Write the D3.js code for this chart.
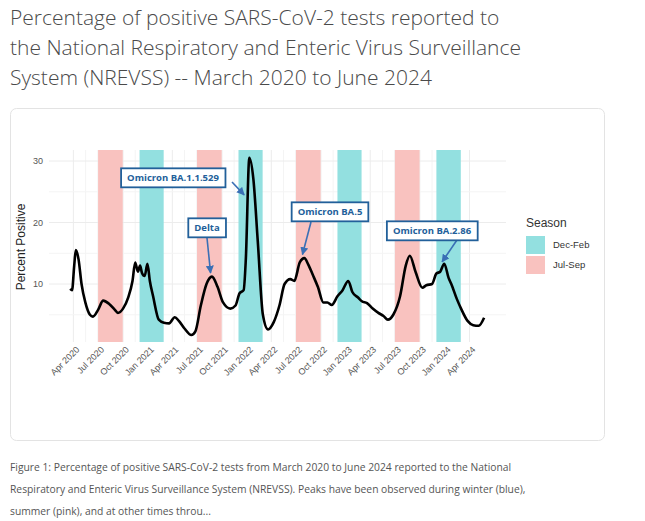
<!DOCTYPE html>
<html>
<head>
<meta charset="utf-8">
<script src="https://cdn.jsdelivr.net/npm/d3@7"></script>
<style>
  body { margin: 0; background: #fff; font-family: "Open Sans", sans-serif; }
</style>
</head>
<body>
<div id="output"></div>
<script>
// weekly-ish readings
const dates = ["2020-03-20","2020-03-27","2020-04-04","2020-04-10","2020-04-20","2020-05-01","2020-05-15","2020-06-01","2020-06-12","2020-07-01","2020-07-20","2020-08-10","2020-09-01","2020-09-12","2020-10-01","2020-10-20","2020-11-05","2020-11-15","2020-11-25","2020-12-03","2020-12-10","2020-12-20","2020-12-30","2021-01-08","2021-01-20","2021-02-10","2021-03-01","2021-03-20","2021-04-10","2021-04-25","2021-05-15","2021-06-10","2021-06-25","2021-07-15","2021-08-05","2021-08-25","2021-09-15","2021-10-05","2021-11-01","2021-11-20","2021-12-05","2021-12-20","2021-12-28","2022-01-10","2022-01-25","2022-02-10","2022-03-01","2022-03-20","2022-04-10","2022-05-01","2022-05-20","2022-06-10","2022-06-25","2022-07-15","2022-08-01","2022-08-15","2022-09-01","2022-09-20","2022-10-10","2022-10-25","2022-11-10","2022-12-01","2022-12-20","2023-01-10","2023-01-25","2023-02-15","2023-03-01","2023-03-20","2023-04-10","2023-05-01","2023-05-20","2023-06-05","2023-06-25","2023-07-20","2023-08-10","2023-08-25","2023-09-15","2023-10-10","2023-10-25","2023-11-15","2023-12-01","2023-12-15","2023-12-30","2024-01-15","2024-01-25","2024-02-15","2024-03-01","2024-03-25","2024-04-15","2024-05-05","2024-05-25"];
const values = [9.2,9.0,13.0,15.5,14.0,10.0,7.0,5.0,4.7,5.8,7.3,6.8,5.8,5.3,6.0,7.8,10.5,13.5,12.0,13.0,11.8,11.3,13.3,10.5,8.0,4.2,3.7,3.6,4.6,4.0,2.8,1.7,2.3,6.5,10.0,11.2,9.5,7.0,6.0,6.5,8.5,9.0,14.0,30.5,27.0,17.0,5.0,2.6,3.8,6.5,10.0,10.8,10.5,13.5,14.2,13.2,11.5,9.5,7.0,7.0,6.6,8.0,9.0,10.5,8.7,7.8,7.2,6.9,6.0,5.3,4.8,4.2,5.0,8.0,13.0,14.6,12.0,9.4,9.8,10.0,11.7,12.0,13.3,11.0,10.0,7.5,6.0,4.0,3.3,3.2,4.5];

const seasons = ["Dec-Feb","Jul-Sep"];
const seasonColors = ["#93e0e0","#f9c2bf"];
const bands = [
  {season:"Jul-Sep", start:"2020-07-01", end:"2020-09-30"},
  {season:"Dec-Feb", start:"2020-12-01", end:"2021-02-28"},
  {season:"Jul-Sep", start:"2021-07-01", end:"2021-09-30"},
  {season:"Dec-Feb", start:"2021-12-01", end:"2022-02-28"},
  {season:"Jul-Sep", start:"2022-07-01", end:"2022-09-30"},
  {season:"Dec-Feb", start:"2022-12-01", end:"2023-02-28"},
  {season:"Jul-Sep", start:"2023-07-01", end:"2023-09-30"},
  {season:"Dec-Feb", start:"2023-12-01", end:"2024-02-29"}
];
const notes = [
  {label:"Omicron BA.1.1.529", bx:173, by:178, date:"2021-12-22", v:24.5, fromX:232, fromY:182},
  {label:"Delta", bx:207, by:228, date:"2021-08-20", v:11.8, fromX:207, fromY:238},
  {label:"Omicron BA.5", bx:330, by:212, date:"2022-07-25", v:14.8, fromX:311, fromY:222},
  {label:"Omicron BA.2.86", bx:432, by:231, date:"2023-12-22", v:13.6, fromX:457, fromY:240}
];
const yTicks = [10,20,30];
const yMinor = [5,15,25];

const parse = d3.timeParse("%Y-%m-%d");
const W = 645, H = 521;
const plotTop = 150, plotBottom = 342;

const x = d3.scaleTime().domain([parse("2020-03-01"), parse("2024-06-01")]).range([65, 486]);
const y = d3.scaleLinear().domain([0, 30]).range([345.5, 161]);
const color = d3.scaleOrdinal(seasons, seasonColors);

const svg = d3.select("#output").append("svg").attr("width", W).attr("height", H);

// title
const title = ["Percentage of positive SARS-CoV-2 tests reported to",
  "the National Respiratory and Enteric Virus Surveillance",
  "System (NREVSS) -- March 2020 to June 2024"];
svg.append("g").selectAll("text").data(title).join("text")
  .attr("x", 10).attr("y", (d, i) => 25 + i * 30)
  .attr("font-size", 21).attr("fill", "#4a4a4a").attr("font-weight", 300)
  .text(d => d);

// card
svg.append("rect").attr("x", 10.5).attr("y", 108.5).attr("width", 594).attr("height", 332)
  .attr("rx", 6).attr("fill", "#fff").attr("stroke", "#e3e3e3");

// grid
const xTicks = d3.timeMonth.every(3).range(parse("2020-03-01"), parse("2024-06-02"));
const grid = svg.append("g").attr("stroke", "#ececec");
grid.selectAll(".vmaj").data(xTicks).join("line")
  .attr("x1", d => x(d)).attr("x2", d => x(d)).attr("y1", plotTop).attr("y2", plotBottom);
grid.selectAll(".vmin").data(xTicks.slice(0, -1)).join("line")
  .attr("stroke", "#f4f4f4")
  .attr("x1", d => x(d3.timeDay.offset(d, 45))).attr("x2", d => x(d3.timeDay.offset(d, 45)))
  .attr("y1", plotTop).attr("y2", plotBottom);
grid.selectAll(".hmaj").data(yTicks).join("line")
  .attr("x1", 49).attr("x2", 506).attr("y1", d => y(d)).attr("y2", d => y(d));
grid.selectAll(".hmin").data(yMinor).join("line").attr("stroke", "#f4f4f4")
  .attr("x1", 49).attr("x2", 506).attr("y1", d => y(d)).attr("y2", d => y(d));

// season bands
svg.append("g").selectAll("rect").data(bands).join("rect")
  .attr("x", d => x(parse(d.start)))
  .attr("width", d => x(parse(d.end)) - x(parse(d.start)))
  .attr("y", plotTop).attr("height", plotBottom - plotTop)
  .attr("fill", d => color(d.season));

// line
const pts = dates.map((d, i) => ({date: parse(d), v: values[i]}));
svg.append("path").datum(pts)
  .attr("fill", "none").attr("stroke", "#000").attr("stroke-width", 2.6)
  .attr("stroke-linejoin", "round")
  .attr("d", d3.line().x(d => x(d.date)).y(d => y(d.v)).curve(d3.curveMonotoneX));

// axes
const yAxis = svg.append("g").attr("transform", "translate(49,0)")
  .call(d3.axisLeft(y).tickValues(yTicks).tickSize(0).tickPadding(6));
yAxis.select(".domain").remove();
yAxis.selectAll("text").attr("font-size", 9).attr("fill", "#555").attr("font-family", "Liberation Sans, Arial");

const xAxis = svg.append("g").attr("transform", `translate(0,${plotBottom})`)
  .call(d3.axisBottom(x).tickValues(xTicks).tickSize(0).tickFormat(d3.timeFormat("%b %Y")));
xAxis.select(".domain").remove();
xAxis.selectAll("text")
  .attr("font-size", 9).attr("fill", "#555").attr("font-family", "Liberation Sans, Arial")
  .attr("text-anchor", "end").attr("dx", 0).attr("dy", 0)
  .attr("transform", "translate(4,6) rotate(-45)");

svg.append("text").attr("transform", "translate(25,247) rotate(-90)")
  .attr("text-anchor", "middle").attr("font-size", 12).attr("fill", "#222")
  .attr("font-family", "Liberation Sans, Arial").text("Percent Positive");

// annotations
svg.append("defs").append("marker").attr("id", "arr")
  .attr("viewBox", "0 -5 10 10").attr("refX", 9).attr("markerWidth", 5).attr("markerHeight", 5)
  .attr("orient", "auto").append("path").attr("d", "M0,-5L10,0L0,5").attr("fill", "#3a6fb5");
const ann = svg.append("g").selectAll("g").data(notes).join("g");
ann.append("line")
  .attr("x1", d => d.fromX).attr("y1", d => d.fromY)
  .attr("x2", d => x(parse(d.date))).attr("y2", d => y(d.v))
  .attr("stroke", "#3a6fb5").attr("stroke-width", 1.6).attr("marker-end", "url(#arr)");
ann.append("text")
  .attr("x", d => d.bx).attr("y", d => d.by).attr("dy", "0.35em")
  .attr("text-anchor", "middle").attr("font-size", 9.5).attr("font-weight", "bold")
  .attr("fill", "#22609a").attr("font-family", "Open Sans, sans-serif")
  .text(d => d.label)
  .each(function (d) {
    const b = this.getBBox();
    d3.select(this.parentNode).insert("rect", "text")
      .attr("x", b.x - 6).attr("y", b.y - 3).attr("width", b.width + 12).attr("height", b.height + 6)
      .attr("fill", "#fff").attr("stroke", "#22609a").attr("stroke-width", 1.8);
  });

// legend
const lg = svg.append("g").attr("font-family", "Liberation Sans, Arial");
lg.append("text").attr("x", 526).attr("y", 227).attr("font-size", 12).attr("fill", "#333").text("Season");
const item = lg.selectAll("g").data(seasons).join("g")
  .attr("transform", (d, i) => `translate(526,${236 + i * 20})`);
item.append("rect").attr("width", 19).attr("height", 18).attr("fill", d => color(d));
item.append("text").attr("x", 27).attr("y", 9).attr("dy", "0.35em")
  .attr("font-size", 9.5).attr("fill", "#333").text(d => d);

// caption
const cap = ["Figure 1: Percentage of positive SARS-CoV-2 tests from March 2020 to June 2024 reported to the National",
  "Respiratory and Enteric Virus Surveillance System (NREVSS). Peaks have been observed during winter (blue),",
  "summer (pink), and at other times throu..."];
svg.append("g").selectAll("text").data(cap).join("text")
  .attr("x", 10).attr("y", (d, i) => 471 + i * 22)
  .attr("font-size", 10.3).attr("fill", "#555").text(d => d);
</script>
</body>
</html>
